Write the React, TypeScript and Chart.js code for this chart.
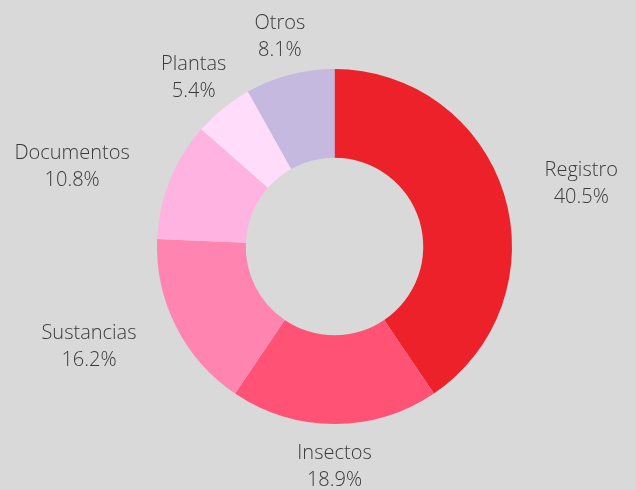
import React, { useEffect, useRef } from 'react';
import { Chart, registerables } from 'chart.js';

Chart.register(...registerables);

const categories = ['Registro', 'Insectos', 'Sustancias', 'Documentos', 'Plantas', 'Otros'];
const counts = [15, 7, 6, 4, 2, 3];
const sliceColors = ['#ED2129', '#FF5275', '#FF85B0', '#FFB3E0', '#FFDCFA', '#C5B9DF'];

const total = counts.reduce((a, b) => a + b, 0);
const percentLabels = counts.map((v) => ((v / total) * 100).toFixed(1) + '%');

const BG = '#d9d9d9';

const backgroundPlugin = {
  id: 'bgFill',
  beforeDraw(chart: any) {
    const { ctx, width, height } = chart;
    ctx.save();
    ctx.fillStyle = BG;
    ctx.fillRect(0, 0, width, height);
    ctx.restore();
  },
};

const outsideLabels = {
  id: 'outsideLabels',
  afterDatasetsDraw(chart: any) {
    const ctx = chart.ctx;
    const meta = chart.getDatasetMeta(0);
    ctx.save();
    ctx.font = '300 20px "Open Sans"';
    ctx.fillStyle = '#3a3a3a';
    ctx.textAlign = 'center';
    ctx.textBaseline = 'middle';
    const lh = 27;
    const hh = lh;
    meta.data.forEach((arc: any, i: number) => {
      const { x, y, startAngle, endAngle, outerRadius } = arc.getProps(
        ['x', 'y', 'startAngle', 'endAngle', 'outerRadius'],
        true
      );
      const mid = (startAngle + endAngle) / 2;
      const vx = Math.cos(mid);
      const vy = Math.sin(mid);
      const lines = [categories[i], percentLabels[i]];
      const w = Math.max(...lines.map((l) => ctx.measureText(l).width));
      const r = outerRadius + 14;
      let cx = x + vx * r;
      let cy = y + vy * r + 1.5;
      if (Math.abs(vx) > Math.abs(vy)) cx += Math.sign(vx) * (w / 2 + hh);
      else cx += (vx * w) / 2;
      cy += vy * hh;
      ctx.fillText(lines[0], cx, cy - lh / 2);
      ctx.fillText(lines[1], cx, cy + lh / 2);
    });
    ctx.restore();
  },
};

export default function App() {
  const canvasRef = useRef<HTMLCanvasElement | null>(null);

  useEffect(() => {
    document.body.style.margin = '0';
    document.body.style.background = BG;
    const canvas = canvasRef.current;
    if (!canvas) return;
    const chart = new Chart(canvas, {
      type: 'doughnut',
      data: {
        labels: categories,
        datasets: [
          {
            data: counts,
            backgroundColor: sliceColors,
            borderWidth: 0,
            hoverOffset: 0,
          },
        ],
      },
      options: {
        responsive: false,
        animation: false,
        devicePixelRatio: 1,
        cutout: '50%',
        layout: { padding: { top: 69, bottom: 66, left: 33, right: 0 } },
        plugins: {
          legend: { display: false },
          tooltip: { enabled: false },
        },
      },
      plugins: [backgroundPlugin, outsideLabels],
    });
    return () => chart.destroy();
  }, []);

  return (
    <div style={{ position: 'absolute', left: 0, top: 0, width: 636, height: 490, background: BG }}>
      <canvas ref={canvasRef} width={636} height={490} style={{ display: 'block' }} />
    </div>
  );
}
